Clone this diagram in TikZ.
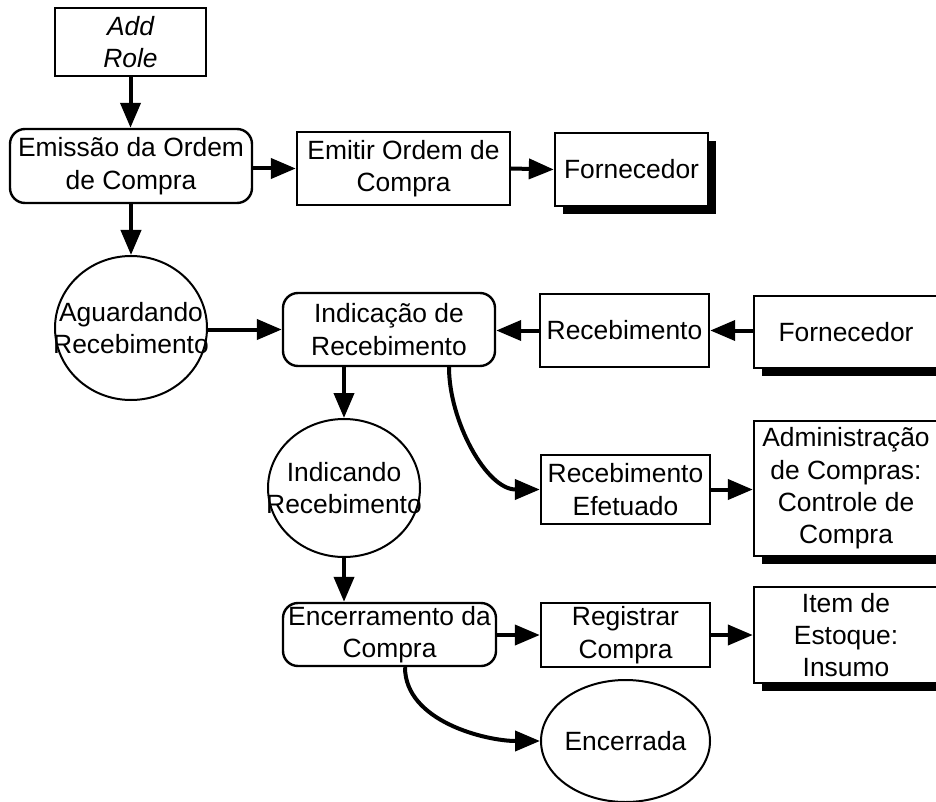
\documentclass[tikz,border=0pt]{standalone}
\usepackage{fontspec}
\setmainfont{Liberation Sans}
\usetikzlibrary{arrows.meta,shapes.geometric,shadows}
\begin{document}
\begin{tikzpicture}[x=0.5pt,y=-0.5pt,
  every node/.style={font=\fontsize{13.2pt}{16.2pt}\selectfont, align=center, inner sep=0pt},
  box/.style={draw, line width=1.2pt, rectangle},
  rbox/.style={draw, line width=1.2pt, rectangle, rounded corners=7.5pt},
  ext/.style={box, fill=white, drop shadow={opacity=1, fill=black, shadow xshift=4pt, shadow yshift=-4pt}},
  state/.style={draw, line width=1pt, ellipse},
  flow/.style={line width=2pt, -{Triangle[length=12.5pt,width=10pt]}}
]
\clip (0,0) rectangle (936,802);

% process chain: order issue
\node[box, minimum width=75.5pt, minimum height=34pt] (addrole) at (130.5,42) {\itshape Add\\\itshape Role};
\node[rbox, minimum width=121pt, minimum height=37pt] (emissao) at (131,166) {Emissão da Ordem\\de Compra};
\node[box, minimum width=106.5pt, minimum height=36.5pt] (emitir) at (403.5,168.5) {Emitir Ordem de\\Compra};
\node[ext, minimum width=76.5pt, minimum height=36.5pt] (forn1) at (631.5,169.5) {Fornecedor};

% waiting for delivery
\node[state, minimum width=76pt, minimum height=72pt] (aguard) at (131,328) {};
\node at (aguard) {Aguardando\\Recebimento};
\node[rbox, minimum width=106pt, minimum height=36.5pt] (indic) at (389,329.5) {Indicação de\\Recebimento};
\node[box, minimum width=84.5pt, minimum height=36.5pt] (receb) at (624.5,330.5) {Recebimento};
\node[ext, minimum width=92pt, minimum height=36pt] (forn2) at (846,332) {Fornecedor};

% receiving
\node[state, minimum width=76pt, minimum height=69pt] (indicando) at (344,488) {};
\node at (indicando) {Indicando\\Recebimento};
\node[box, minimum width=84.5pt, minimum height=34.5pt] (recef) at (625.5,489.5) {Recebimento\\Efetuado};
\node[ext, minimum width=92pt, minimum height=67.5pt] (admin) at (846,488.5) {Administração\\de Compras:\\Controle de\\Compra};

% closing
\node[rbox, minimum width=106.5pt, minimum height=31.5pt] (encerr) at (389.5,634.5) {Encerramento da\\Compra};
\node[box, minimum width=84.5pt, minimum height=32pt] (regist) at (625.5,635) {Registrar\\Compra};
\node[ext, minimum width=92pt, minimum height=48pt] (item) at (846,635) {Item de\\Estoque:\\Insumo};
\node[state, minimum width=84.5pt, minimum height=61pt] (encerrada) at (625.5,741) {};
\node at (encerrada) {Encerrada};

% connectors
\draw[flow] (addrole.south) -- (emissao.north -| addrole.south);
\draw[flow] (emissao.east |- emitir.west) -- (emitir.west);
\draw[flow] (emitir.east) -- (forn1.west);
\draw[flow] (emissao.south -| aguard.north) -- (aguard.north);
\draw[flow] (aguard.east |- indic.west) -- (indic.west);
\draw[flow] (forn2.west |- receb.east) -- (receb.east);
\draw[flow] (receb.west) -- (indic.east |- receb.west);
\draw[flow] (indicando.north |- indic.south) -- (indicando.north);
\draw[flow] ([xshift=30pt]indic.south) to[out=-90,in=180,looseness=0.9] (recef.west);
\draw[flow] (recef.east) -- (admin.west |- recef.east);
\draw[flow] (indicando.south) -- (encerr.north -| indicando.south);
\draw[flow] (encerr.east |- regist.west) -- (regist.west);
\draw[flow] (regist.east) -- (item.west);
\draw[flow] ([xshift=7.75pt]encerr.south) to[out=-90,in=180,looseness=0.9] (encerrada.west);
\end{tikzpicture}
\end{document}
